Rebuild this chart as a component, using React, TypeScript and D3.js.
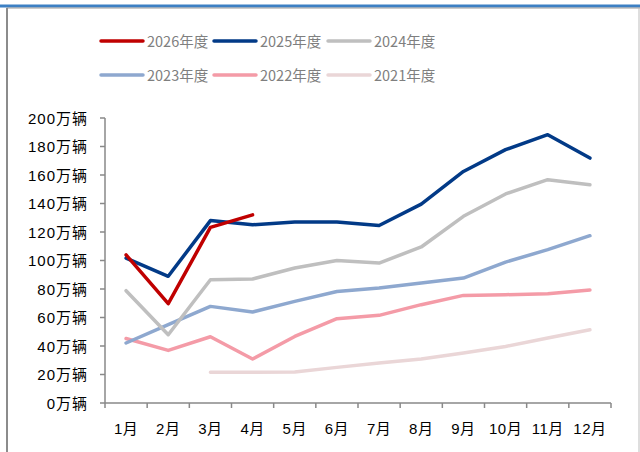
import React from 'react';
import * as d3 from 'd3';

// months on the x axis
const months = ['1月', '2月', '3月', '4月', '5月', '6月', '7月', '8月', '9月', '10月', '11月', '12月'];
const yTicks = [0, 20, 40, 60, 80, 100, 120, 140, 160, 180, 200];

// monthly sales, 万辆 (null = no data)
const sales2026 = [103.9, 69.7, 123.2, 132, null, null, null, null, null, null, null, null];
const sales2025 = [101.7, 88.9, 128, 125.1, 127, 127, 124.6, 139.6, 162.5, 177.8, 188.3, 171.9];
const sales2024 = [78.8, 47.9, 86.5, 87, 94.7, 100, 98.2, 109.5, 131, 146.7, 156.7, 153.2];
const sales2023 = [42.1, 55, 67.8, 63.9, 71.3, 78.3, 80.7, 84.2, 87.7, 98.9, 107.6, 117.4];
const sales2022 = [45.3, 36.9, 46.5, 30.9, 46.7, 59.2, 61.5, 69, 75.5, 76, 76.7, 79.3];
const sales2021 = [null, null, 21.5, 21.5, 21.8, 25, 28, 30.9, 35.1, 39.7, 45.6, 51.4];

const seriesNames = ['2026年度', '2025年度', '2024年度', '2023年度', '2022年度', '2021年度'];
const seriesColors = ['#c00000', '#023a87', '#bfbfbf', '#8ea8cf', '#f49ba7', '#ead6d7'];
const seriesValues = [sales2026, sales2025, sales2024, sales2023, sales2022, sales2021];

const W = 640;
const H = 452;
const left = 105;
const right = 611;
const top = 118;
const bottom = 403;

const narrowFont = '"Liberation Sans Narrow", "Noto Sans CJK SC", sans-serif';
const tickFont = '"Liberation Sans", "Noto Sans CJK SC", sans-serif';

export default function App() {
  const x = d3.scaleBand<string>().domain(months).range([left, right]);
  const y = d3.scaleLinear().domain([0, 200]).range([bottom, top]);
  const cx = (i: number) => (x(months[i]) as number) + x.bandwidth() / 2;

  const line = d3
    .line<number | null>()
    .defined((d) => d !== null)
    .x((_, i) => cx(i))
    .y((d) => y(d as number));

  // legend is drawn in two rows of three
  const legendX = [100, 213, 327];
  const legendY = [41, 75];

  return (
    <div style={{ position: 'fixed', left: 0, top: 0 }}>
      <svg width={W} height={H} style={{ display: 'block', background: '#fff' }}>
        {/* page frame */}
        <rect x={0} y={4.5} width={W} height={3} fill="#3d80c4" />
        <line x1={6.5} x2={W} y1={8} y2={8} stroke="#999" strokeWidth={1} />
        <line x1={7} x2={7} y1={8} y2={H} stroke="#8c8c8c" strokeWidth={2} />
        <line x1={639} x2={639} y1={8} y2={H} stroke="#bdbdbd" strokeWidth={1} />

        {/* legend */}
        {seriesNames.map((name, i) => {
          const lx = legendX[i % 3];
          const ly = legendY[Math.floor(i / 3)];
          return (
            <g key={name}>
              <line x1={lx + 1} x2={lx + 43} y1={ly} y2={ly} stroke={seriesColors[i]} strokeWidth={3.5} strokeLinecap="round" />
              <text x={lx + 47} y={ly + 5.5} fontSize={14.5} fill="#7f7f7f" fontFamily={narrowFont}>
                {name}
              </text>
            </g>
          );
        })}

        {/* y axis */}
        <line x1={left} x2={left} y1={top} y2={bottom} stroke="#898989" strokeWidth={1.5} />
        {yTicks.map((t) => (
          <g key={t}>
            <line x1={left - 5} x2={left} y1={y(t)} y2={y(t)} stroke="#898989" strokeWidth={1.5} />
            <text
              x={88}
              y={y(t) + 5.5}
              textAnchor="end"
              fontSize={15}
              fill="#000"
              fontFamily={tickFont}
              letterSpacing={1}
            >
              {t}万辆
            </text>
          </g>
        ))}

        {/* x axis */}
        <line x1={left} x2={right} y1={bottom} y2={bottom} stroke="#898989" strokeWidth={1.5} />
        {d3.range(months.length + 1).map((i) => {
          const tx = left + i * x.step();
          return <line key={i} x1={tx} x2={tx} y1={bottom} y2={bottom + 5} stroke="#898989" strokeWidth={1.5} />;
        })}
        {months.map((m, i) => (
          <text key={m} x={cx(i)} y={434} textAnchor="middle" fontSize={15} fill="#000" fontFamily={tickFont} letterSpacing={0.5}>
            {m}
          </text>
        ))}

        {/* series, oldest drawn first */}
        {seriesValues
          .map((vals, i) => ({ vals, i }))
          .reverse()
          .map(({ vals, i }) => (
            <path
              key={seriesNames[i]}
              d={line(vals) || ''}
              fill="none"
              stroke={seriesColors[i]}
              strokeWidth={3.5}
              strokeLinejoin="round"
              strokeLinecap="round"
            />
          ))}
      </svg>
    </div>
  );
}
